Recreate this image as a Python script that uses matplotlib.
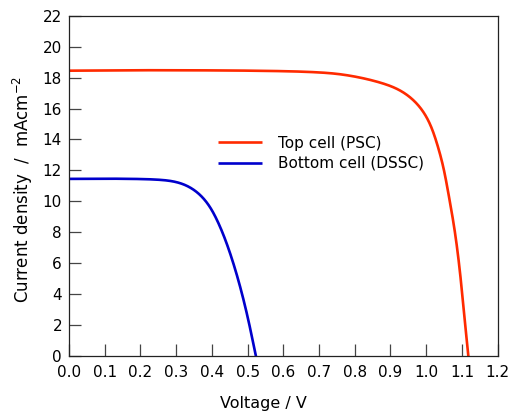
import matplotlib
matplotlib.use("Agg")
import matplotlib.pyplot as plt
import numpy as np

plt.rcParams['font.family'] = ['DejaVu Sans']

# Top cell (PSC) J-V curve
top_v = [0.0, 0.2, 0.4, 0.6, 0.731, 0.824, 0.871, 0.918, 0.955, 0.983, 1.011,
         1.030, 1.048, 1.062, 1.081, 1.095, 1.105, 1.118]
top_j = [18.45, 18.48, 18.47, 18.42, 18.30, 17.97, 17.69, 17.33, 16.78, 16.14, 15.06,
         13.77, 12.25, 10.53, 7.94, 5.35, 2.98, 0.0]

# Bottom cell (DSSC) J-V curve
bot_v = [0.0, 0.1, 0.199, 0.292, 0.339, 0.386, 0.423, 0.451, 0.479, 0.502, 0.523]
bot_j = [11.45, 11.46, 11.44, 11.33, 10.96, 9.99, 8.37, 6.65, 4.49, 2.33, 0.0]

labels = ['Top cell (PSC)', 'Bottom cell (DSSC)']
colors = ['#FF2A00', '#0000CC']

x_ticks = [0.0, 0.1, 0.2, 0.3, 0.4, 0.5, 0.6, 0.7, 0.8, 0.9, 1.0, 1.1, 1.2]
y_ticks = [0, 2, 4, 6, 8, 10, 12, 14, 16, 18, 20, 22]


def pchip(x, y, xn):
    x = np.asarray(x, float)
    y = np.asarray(y, float)
    h = np.diff(x)
    d = np.diff(y) / h
    m = np.zeros_like(y)
    for k in range(1, len(x) - 1):
        if d[k - 1] * d[k] <= 0:
            m[k] = 0
        else:
            w1 = 2 * h[k] + h[k - 1]
            w2 = h[k] + 2 * h[k - 1]
            m[k] = (w1 + w2) / (w1 / d[k - 1] + w2 / d[k])
    m[0] = d[0]
    m[-1] = d[-1]
    idx = np.clip(np.searchsorted(x, xn) - 1, 0, len(x) - 2)
    t = (xn - x[idx]) / h[idx]
    h00 = 2 * t**3 - 3 * t**2 + 1
    h10 = t**3 - 2 * t**2 + t
    h01 = -2 * t**3 + 3 * t**2
    h11 = t**3 - t**2
    return h00 * y[idx] + h10 * h[idx] * m[idx] + h01 * y[idx + 1] + h11 * h[idx] * m[idx + 1]


def smooth_curve(vs, js, sx=357.0, sy=15.45, sigma=10.0):
    """Interpolate the read points, then smooth along arc length to remove kinks."""
    vs = np.asarray(vs, float)
    js = np.asarray(js, float)
    vd = np.linspace(vs[0], vs[-1], 4000)
    jd = pchip(vs, js, vd)
    ext = 60.0
    X = vd * sx
    Y = jd * sy
    t0 = np.array([X[1] - X[0], Y[1] - Y[0]]); t0 /= np.hypot(*t0)
    t1 = np.array([X[-1] - X[-2], Y[-1] - Y[-2]]); t1 /= np.hypot(*t1)
    s_ext = np.linspace(ext, 0, 300, endpoint=False)
    Xs = np.concatenate([X[0] - t0[0] * s_ext, X, X[-1] + t1[0] * s_ext[::-1]])
    Ys = np.concatenate([Y[0] - t0[1] * s_ext, Y, Y[-1] + t1[1] * s_ext[::-1]])
    seg = np.hypot(np.diff(Xs), np.diff(Ys))
    s = np.concatenate([[0], np.cumsum(seg)])
    su = np.arange(0, s[-1], 0.5)
    Xu = np.interp(su, s, Xs)
    Yu = np.interp(su, s, Ys)
    k = int(4 * sigma / 0.5)
    kern = np.exp(-0.5 * (np.arange(-k, k + 1) * 0.5 / sigma) ** 2)
    kern /= kern.sum()
    Xp = np.pad(Xu, k, mode='edge')
    Yp = np.pad(Yu, k, mode='edge')
    Xf = np.convolve(Xp, kern, mode='valid')
    Yf = np.convolve(Yp, kern, mode='valid')
    return Xf / sx, Yf / sy


fig = plt.figure(figsize=(5.13, 4.17), dpi=100)
ax = fig.add_axes([0.1345, 0.147, 0.8355, 0.815])

for xs, ys, lab, col in zip([top_v, bot_v], [top_j, bot_j], labels, colors):
    xn, yn = smooth_curve(xs, ys)
    ax.plot(xn, yn, color=col, lw=1.9, label=lab, solid_capstyle='butt')

ax.set_xlim(0, 1.2)
ax.set_ylim(0, 22)
ax.set_xticks(x_ticks)
ax.set_xticklabels([f'{v:.1f}' for v in x_ticks])
ax.set_yticks(y_ticks)
ax.tick_params(direction='in', length=8.5, width=0.9, color='#444444',
               labelsize=11, top=False, right=False)
ax.tick_params(axis='x', pad=7)
ax.tick_params(axis='y', pad=5)
for s in ax.spines.values():
    s.set_linewidth(0.9)
    s.set_color('#222222')

ax.set_xlabel('Voltage / V', fontsize=11.5)
ax.xaxis.set_label_coords(0.453, -0.12)
ax.set_ylabel('Current density  /  mAcm$^{-2}$', fontsize=12)
ax.yaxis.set_label_coords(-0.08, 0.49)

ax.legend(loc='upper left', bbox_to_anchor=(0.33, 0.67), frameon=False,
          fontsize=11, handlelength=2.9, handletextpad=1.0, labelspacing=0.35,
          borderpad=0)

fig.savefig('out.png', dpi=100)
